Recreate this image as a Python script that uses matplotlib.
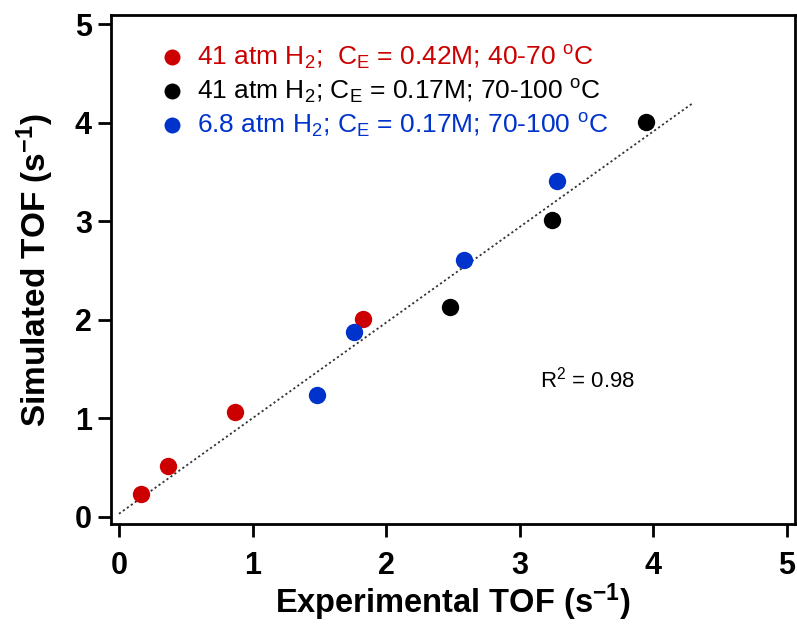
import matplotlib
matplotlib.use("Agg")
import matplotlib.pyplot as plt
from matplotlib.lines import Line2D

plt.rcParams['font.family'] = ['Liberation Sans', 'DejaVu Sans']
plt.rcParams['mathtext.fontset'] = 'custom'
plt.rcParams['mathtext.rm'] = 'Liberation Sans'
plt.rcParams['mathtext.it'] = 'Liberation Sans:italic'
plt.rcParams['mathtext.bf'] = 'Liberation Sans:bold'

# Data
red_x = [0.165, 0.37, 0.87, 1.83]
red_y = [0.23, 0.52, 1.065, 2.005]
black_x = [2.476, 3.246, 3.945]
black_y = [2.127, 3.009, 4.004]
blue_x = [1.486, 1.76, 2.584, 3.279]
blue_y = [1.237, 1.873, 2.606, 3.408]
fit_x = [0.0, 4.29]
fit_slope = 0.97
fit_intercept = 0.03
labels = [r"41 atm H$_\mathrm{2}$;  C$_\mathrm{E}$ = 0.42M; 40-70 $^\mathrm{o}$C",
          r"41 atm H$_\mathrm{2}$; C$_\mathrm{E}$ = 0.17M; 70-100 $^\mathrm{o}$C",
          r"6.8 atm H$_\mathrm{2}$; C$_\mathrm{E}$ = 0.17M; 70-100 $^\mathrm{o}$C"]
colors = ['#CC0000', '#000000', '#0033CC']
ticks = [0, 1, 2, 3, 4, 5]

fig = plt.figure(figsize=(7.97, 6.25), dpi=100)
ax = fig.add_axes([0.1389, 0.1611, 0.9975 - 0.1389, 0.9755 - 0.1611])

fy = [fit_slope * x + fit_intercept for x in fit_x]
ax.plot(fit_x, fy, linestyle=(0, (1.2, 1.5)), color='#333333', linewidth=1.3, zorder=1)

ms = 12.5
ax.plot(red_x, red_y, 'o', color=colors[0], markersize=ms, markeredgewidth=0, zorder=3)
ax.plot(black_x, black_y, 'o', color=colors[1], markersize=ms, markeredgewidth=0, zorder=3)
ax.plot(blue_x, blue_y, 'o', color=colors[2], markersize=ms, markeredgewidth=0, zorder=3)

ax.set_xlim(-0.062, 5.063)
ax.set_ylim(-0.077, 5.09)
ax.set_xticks(ticks)
ax.set_yticks(ticks)
ax.set_xticklabels([str(t) for t in ticks], fontsize=22, fontweight='bold')
ax.set_yticklabels([str(t) for t in ticks], fontsize=22, fontweight='bold')
ax.tick_params(direction='out', length=9.5, width=2)
ax.tick_params(axis='x', pad=10)
ax.tick_params(axis='y', pad=4)
for s in ax.spines.values():
    s.set_linewidth(2)

ax.set_xlabel(r"Experimental TOF (s$^\mathbf{-1}$)", fontsize=23.5, fontweight='bold', labelpad=0)
ax.set_ylabel(r"Simulated TOF (s$^\mathbf{-1}$)", fontsize=24, fontweight='bold', labelpad=14)

handles = [Line2D([], [], marker='o', linestyle='none', color=c, markersize=11.5, markeredgewidth=0)
           for c in colors]
leg = ax.legend(handles, labels, loc='upper left', bbox_to_anchor=(0.055, 0.964),
                frameon=False, fontsize=19, handletextpad=0.45, labelspacing=0.22,
                handlelength=1.0, borderaxespad=0)
for t, c in zip(leg.get_texts(), colors):
    t.set_color(c)

ax.text(3.15, 1.39, r"R$^\mathrm{2}$ = 0.98", fontsize=16, ha='left', va='center')

fig.savefig("out.png", dpi=100)
